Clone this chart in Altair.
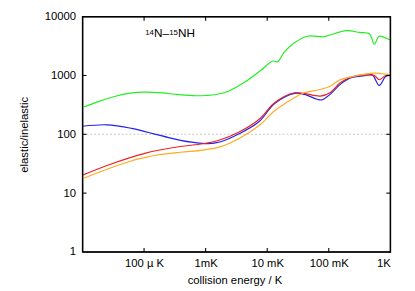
import altair as alt
import pandas as pd

# ---- data (energy in K, ratio elastic/inelastic) ----
green_x = [1e-5, 1.8e-5, 3.3e-5, 6e-5, 1e-4, 2e-4, 3.4e-4, 7e-4, 1e-3, 1.5e-3, 2.35e-3, 4.4e-3, 8.1e-3,
           1.23e-2, 1.48e-2, 1.9e-2, 2.77e-2, 4.5e-2, 8.3e-2, 0.105, 0.195, 0.316, 0.46, 0.55, 0.66, 0.955, 1.0]
green_y = [285, 360, 440, 500, 521, 505, 477, 452, 457, 475, 541, 780, 1250,
           1760, 1711, 2512, 3600, 4650, 4550, 4880, 5770, 5400, 5080, 3410, 4640, 4090, 4000]

blue_x = [1e-5, 2.5e-5, 6.3e-5, 1e-4, 1.55e-4, 2.5e-4, 3.9e-4, 6.3e-4, 1.1e-3, 1.7e-3, 3.5e-3, 7.4e-3, 1.32e-2,
          2.77e-2, 4.0e-2, 6.5e-2, 7.7e-2, 0.105, 0.152, 0.22, 0.405, 0.51, 0.66, 0.84, 1.0]
blue_y = [137, 145, 126, 112, 100, 88, 79, 73, 69.5, 74, 102, 165, 333,
          495, 477, 394, 384, 477, 700, 902, 1000, 1023, 681, 962, 1000]

red_x = [1e-5, 2.5e-5, 6.3e-5, 1e-4, 1.55e-4, 3.9e-4, 9.1e-4, 1.7e-3, 3.5e-3, 7.4e-3, 1.32e-2,
         2.77e-2, 4.0e-2, 7.3e-2, 0.105, 0.152, 0.22, 0.405, 0.55, 0.66, 0.84, 1.0]
red_y = [20.2, 29.5, 41, 47, 52.5, 62, 69, 80, 109, 180, 345,
         508, 495, 447, 508, 745, 925, 1023, 1000, 847, 1000, 1000]

orange_x = [1e-5, 2.5e-5, 6.3e-5, 1e-4, 1.55e-4, 3.9e-4, 9.1e-4, 1.7e-3, 3.5e-3, 7.4e-3, 1.32e-2,
            2.77e-2, 4.0e-2, 7.3e-2, 0.105, 0.152, 0.22, 0.405, 0.585, 0.84, 1.0]
orange_y = [17.6, 25.5, 35.5, 40, 44, 49.5, 54, 61, 85, 141, 251,
            419, 508, 578, 656, 847, 936, 1068, 1094, 1052, 1023]

series = [("green", green_x, green_y), ("blue", blue_x, blue_y),
          ("red", red_x, red_y), ("orange", orange_x, orange_y)]
colors = {"green": "#22ee22", "blue": "#2222ee", "red": "#ee2222", "orange": "#ffaa22"}

x_ticks = [1e-4, 1e-3, 1e-2, 1e-1, 1]
x_tick_labels = ["100 \u00b5 K", "1mK", "10 mK", "100 mK", "1K"]
x_frame_ticks = [1e-4, 1e-3, 1e-2, 1e-1]
y_ticks = [1, 10, 100, 1000, 10000]
y_frame_ticks = [10, 100, 1000]
ref_level = [100]
x_dom = [1e-5, 1.0]
y_dom = [1, 10000]

FONT = "Liberation Sans"
INK = "#000000"
W, H = 314, 240
TICK_X_FACTOR = 1.16   # inward tick length (about 4 px) along the log x axis
TICK_Y_FACTOR = 1.17   # inward tick length (about 4 px) along the log y axis

rows = []
for name, xs_, ys_ in series:
    for i, (a, b) in enumerate(zip(xs_, ys_)):
        rows.append({"s": name, "x": a, "y": b, "i": i})
df = pd.DataFrame(rows)

xs = alt.Scale(type="log", domain=x_dom)
ys = alt.Scale(type="log", domain=y_dom)

label_arr = "[" + ",".join("'" + l + "'" for l in x_tick_labels) + "]"

base_x = alt.X("x:Q", scale=xs, title="collision energy / K",
               axis=alt.Axis(values=x_ticks, ticks=False, domain=False, grid=False,
                             labelExpr=label_arr + "[round(log(datum.value)/LN10)+4]",
                             labelFont=FONT, labelFontSize=11.5, labelColor=INK,
                             labelPadding=6, titleFont=FONT, titleFontSize=11.5,
                             titleFontWeight="normal", titleColor=INK,
                             titleX=155, titleY=29, titleBaseline="middle", titleAlign="center"))
base_y = alt.Y("y:Q", scale=ys, title="elastic/inelastic",
               axis=alt.Axis(values=y_ticks, ticks=False, domain=False, grid=False, format="d",
                             labelFont=FONT, labelFontSize=11.5, labelColor=INK,
                             labelPadding=7, titleFont=FONT, titleFontSize=11.5,
                             titleFontWeight="normal", titleColor=INK,
                             titleX=-59, titleY=120, titleAngle=270,
                             titleBaseline="middle", titleAlign="center"))

ref = alt.Chart(pd.DataFrame({"y": ref_level})).mark_rule(
    color="#c8c8c8", strokeDash=[2, 2], strokeWidth=1).encode(y=alt.Y("y:Q", scale=ys))

lines = []
for name, _, _ in series:
    lines.append(alt.Chart(df[df.s == name]).mark_line(
        color=colors[name], strokeWidth=1.2, interpolate="catmull-rom").encode(
        x=base_x, y=base_y, order="i:Q"))

# inward tick marks on all four sides, as short line segments
trows = []
for k, xv in enumerate(x_frame_ticks):
    trows += [{"g": f"b{k}", "x": xv, "y": y_dom[0], "o": 0},
              {"g": f"b{k}", "x": xv, "y": y_dom[0] * TICK_Y_FACTOR, "o": 1},
              {"g": f"t{k}", "x": xv, "y": y_dom[1], "o": 0},
              {"g": f"t{k}", "x": xv, "y": y_dom[1] / TICK_Y_FACTOR, "o": 1}]
for k, yv in enumerate(y_frame_ticks):
    trows += [{"g": f"l{k}", "x": x_dom[0], "y": yv, "o": 0},
              {"g": f"l{k}", "x": x_dom[0] * TICK_X_FACTOR, "y": yv, "o": 1},
              {"g": f"r{k}", "x": x_dom[1], "y": yv, "o": 0},
              {"g": f"r{k}", "x": x_dom[1] / TICK_X_FACTOR, "y": yv, "o": 1}]
ticks = alt.Chart(pd.DataFrame(trows)).mark_line(stroke=INK, strokeWidth=1.1).encode(
    x=alt.X("x:Q", scale=xs), y=alt.Y("y:Q", scale=ys), detail="g:N", order="o:Q")

# frame as a closed line through the four domain corners
frame_df = pd.DataFrame({"x": [x_dom[0], x_dom[1], x_dom[1], x_dom[0], x_dom[0]],
                         "y": [y_dom[0], y_dom[0], y_dom[1], y_dom[1], y_dom[0]],
                         "o": [0, 1, 2, 3, 4]})
frame = alt.Chart(frame_df).mark_line(stroke=INK, strokeWidth=1.3).encode(
    x=alt.X("x:Q", scale=xs), y=alt.Y("y:Q", scale=ys), order="o:Q")

one = pd.DataFrame({"a": [0]})
def txt(t, x, y, size):
    return alt.Chart(one).mark_text(text=t, font=FONT, fontSize=size, align="left",
                                    baseline="alphabetic", color=INK).encode(
        x=alt.value(x), y=alt.value(y))

title_parts = [txt("14", 64, 18.5, 8), txt("N\u2013", 73, 21, 12),
               txt("15", 88.5, 18.5, 8), txt("NH", 97.5, 21, 12)]

chart = alt.layer(ref, *lines, ticks, frame, *title_parts).properties(
    width=W, height=H,
    autosize=alt.AutoSizeParams(type="none"),
    padding={"left": 76, "top": 6, "right": 17, "bottom": 37},
    background="white",
).configure_view(stroke="black", strokeWidth=1.3)

chart.save("out.html", embed_options={"renderer": "svg", "actions": False})
